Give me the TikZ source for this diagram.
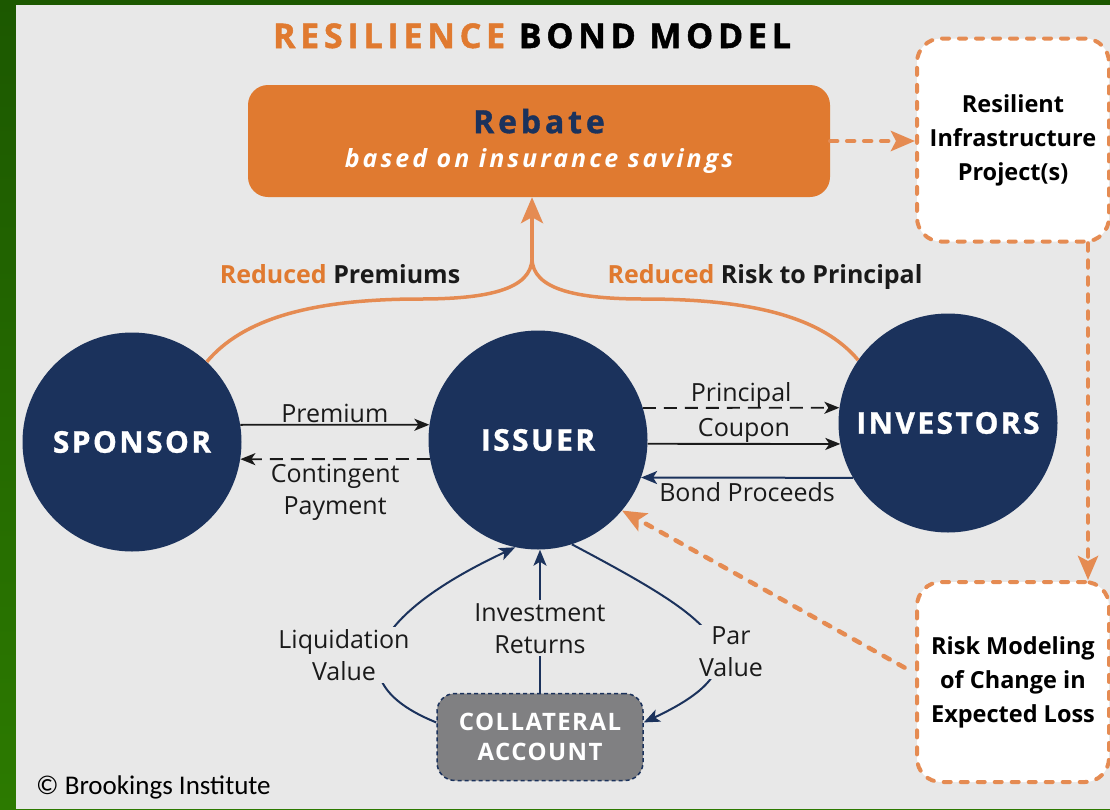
\documentclass[tikz,border=0pt]{standalone}
\usepackage{fontspec}
\setmainfont{Open Sans}
\newfontfamily\brookfont{Carlito}
\usetikzlibrary{arrows.meta,calc}

\definecolor{rbOrange}{RGB}{224,122,48}
\definecolor{rbDash}{RGB}{229,139,82}
\definecolor{rbNavy}{RGB}{27,50,92}
\definecolor{rbInk}{RGB}{26,26,26}
\definecolor{rbPanel}{RGB}{232,232,232}
\definecolor{rbGreen}{RGB}{28,88,0}
\definecolor{rbGreenB}{RGB}{44,122,0}
\definecolor{rbGray}{RGB}{128,128,130}

\tikzset{
  party/.style={circle, fill=rbNavy, minimum size=219pt, inner sep=0pt, text=white,
    font=\fontsize{30}{30}\selectfont\bfseries\addfontfeatures{LetterSpace=8,FakeBold=1}},
  rebatebox/.style={fill=rbOrange, rounded corners=20pt, minimum width=582pt, minimum height=112pt,
    align=center, text=white, font=\fontsize{25}{34}\selectfont\bfseries},
  dashbox/.style={draw=rbDash, fill=white, line width=4pt, dash pattern=on 7pt off 10pt, line cap=round,
    rounded corners=24pt, minimum width=192pt, minimum height=203pt, align=center, text=black,
    font=\fontsize{23.5}{34}\selectfont\bfseries},
  collbox/.style={fill=rbGray, draw=rbNavy, line width=1.5pt, dash pattern=on 4pt off 3pt,
    rounded corners=18pt, minimum width=206pt, minimum height=87pt, align=center, text=white,
    font=\fontsize{24}{30}\selectfont\bfseries\addfontfeatures{LetterSpace=6}},
  flowlabel/.style={font=\fontsize{25}{32}\selectfont, text=rbInk, align=center, inner sep=0pt},
  gainlabel/.style={font=\fontsize{25}{25}\selectfont\bfseries, text=rbInk, inner sep=0pt, anchor=base},
  blackflow/.style={draw=rbInk, line width=1.8pt, -{Stealth[length=15pt,width=12pt,inset=4pt]}},
  navyflow/.style={draw=rbNavy, line width=2pt, -{Stealth[length=16pt,width=13pt,inset=4pt]}},
  dashflow/.style={draw=rbDash, line width=4.5pt, dash pattern=on 7pt off 10pt, line cap=round,
    -{Stealth[length=24pt,width=20pt,inset=5pt]}},
  gainflow/.style={draw=rbDash, line width=3.5pt},
}

\begin{document}
\begin{tikzpicture}[x=1pt,y=1pt]
	% frame
	\fill[top color=rbGreen, bottom color=rbGreenB] (0,0) rectangle (1110,-809);
	\fill[rbPanel] (16,-5) rectangle (1110,-809);
	\useasboundingbox (0,0) rectangle (1110,-809);

	\node[anchor=base, inner sep=0pt, text=black, font=\fontsize{34}{34}\selectfont\bfseries\addfontfeatures{LetterSpace=14,FakeBold=1.5}] (title) at (532,-48) {\textcolor{rbOrange}{RESILIENCE} BOND MODEL};

	\node[rebatebox] (rebate) at (539,-141) {{\color{rbNavy}\fontsize{32}{34}\selectfont\addfontfeatures{LetterSpace=12,FakeBold=1}Rebate}\\\itshape\addfontfeatures{LetterSpace=12}based on insurance savings};
	\node[dashbox] (resilient) at (1013,-140) {Resilient\\Infrastructure\\Project(s)};
	\node[dashbox, minimum height=200pt] (riskmod) at (1013,-682) {Risk Modeling\\of Change in\\Expected Loss};

	\node[party] (sponsor) at (132,-442) {SPONSOR};
	\node[party] (issuer) at (538,-440) {ISSUER};
	\node[party] (investors) at (948,-423) {INVESTORS};
	\node[collbox] (collateral) at (540,-737) {COLLATERAL\\ACCOUNT};

	% rebate branches
	\coordinate (fork) at ($(rebate.south)+(-7,-61)$);
	\draw[gainflow] (sponsor.47) .. controls +(50:55) and +(180:110) .. (420,-299) .. controls +(0:65) and +(-90:32) .. (fork);
	\draw[gainflow] (investors.145) .. controls +(130:55) and +(0:110) .. (644,-299) .. controls +(180:65) and +(-90:32) .. (fork);
	\draw[gainflow, -{Stealth[length=26pt,width=22pt,inset=6pt]}] (fork) -- (fork |- rebate.south);
	\node[gainlabel] (redprem) at (340,-283) {\textcolor{rbOrange}{Reduced} Premiums};
	\node[gainlabel] (redrisk) at (765,-283) {\textcolor{rbOrange}{Reduced} Risk to Principal};

	% dashed orange links
	\draw[dashflow] (rebate.east) -- (rebate.east -| resilient.west);
	\draw[dashflow] ([xshift=75pt]resilient.south) -- ([xshift=75pt]resilient.south |- riskmod.north);
	\draw[dashflow, shorten <=12pt] (riskmod.175) -- (issuer.-40);

	% flows between parties
	\draw[blackflow] (sponsor.9.6) -- node[flowlabel, above=1pt] {Premium} (issuer.172);
	\draw[blackflow, dash pattern=on 13pt off 8pt] (issuer.190.7) -- node[flowlabel, below=4pt] {Contingent\\Payment} (sponsor.-9);
	\draw[blackflow, dash pattern=on 13pt off 8pt] (issuer.17.2) -- node[flowlabel, above=-1pt] {Principal} (investors.172);
	\draw[blackflow] (issuer.-2.1) -- node[flowlabel, above=0pt] {Coupon} (investors.191.2);
	\draw[navyflow] (investors.210) -- node[flowlabel, below=4pt] {Bond Proceeds} (issuer.-20);

	% collateral account
	\draw[navyflow] (collateral.north) -- node[flowlabel, pos=0.45, fill=rbPanel, inner sep=3pt] {Investment\\Returns} (collateral.north |- issuer.south);
	\draw[navyflow] (collateral.172) .. controls +(158:115) and +(205:150) .. (issuer.258);
	\draw[navyflow] (issuer.-72) .. controls +(-28:150) and +(25:150) .. (collateral.8);
	\node[flowlabel, fill=rbPanel, inner sep=2pt] (liquid) at (344,-655) {Liquidation\\Value};
	\node[flowlabel, fill=rbPanel, inner sep=2pt] (parval) at (731,-652) {Par\\Value};

	\node[anchor=base west, inner sep=0pt, text=black, font=\brookfont\fontsize{27}{27}\selectfont] (credit) at (36,-794) {© Brookings Institute};
\end{tikzpicture}
\end{document}
